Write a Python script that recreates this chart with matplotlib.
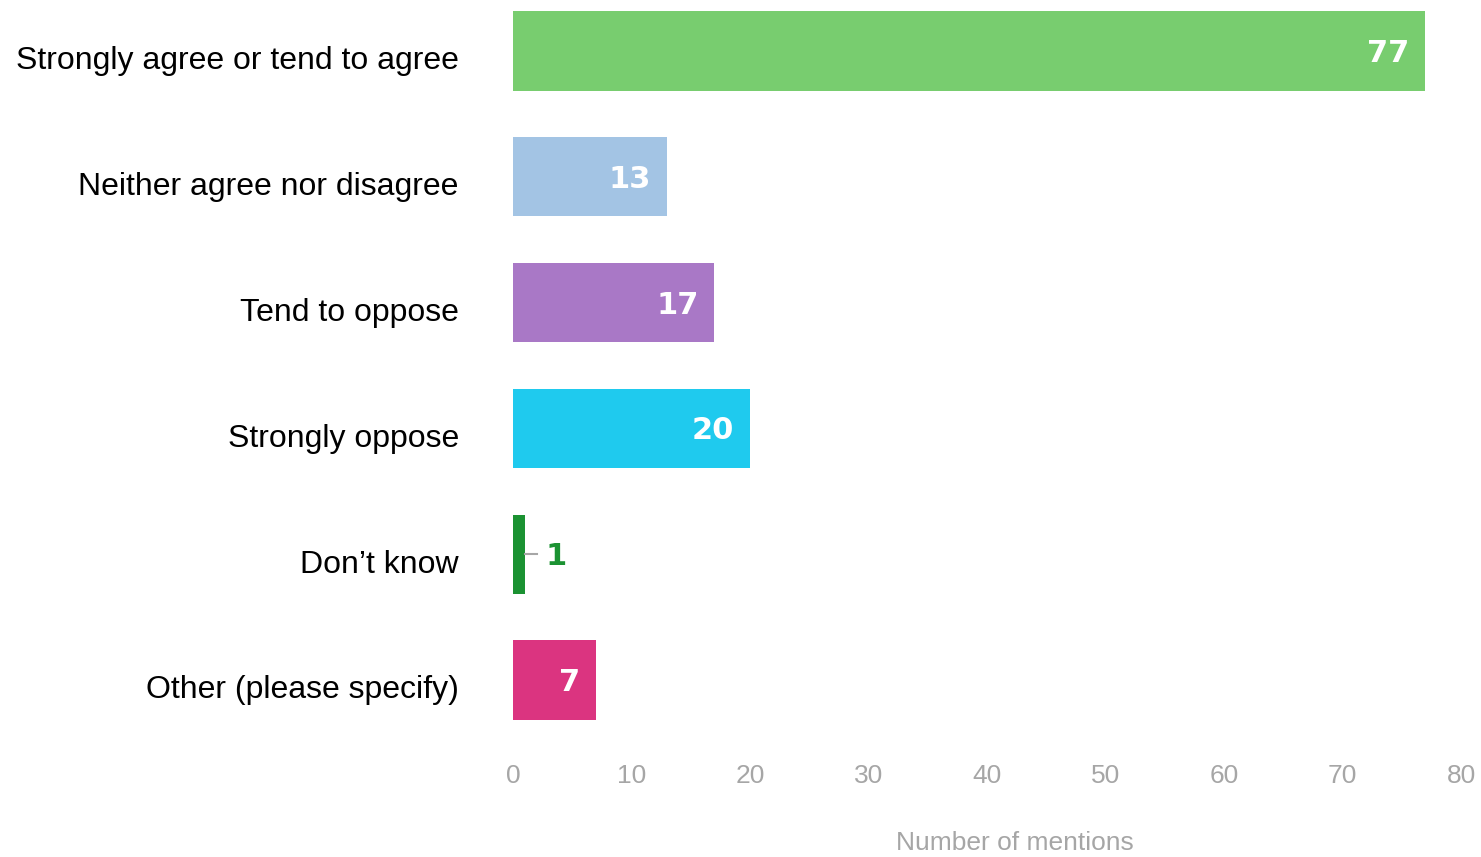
import matplotlib.pyplot as plt
import matplotlib.transforms as mtransforms

categories = ["Strongly agree or tend to agree", "Neither agree nor disagree",
              "Tend to oppose", "Strongly oppose", "Don\u2019t know",
              "Other (please specify)"]
mentions = [77, 13, 17, 20, 1, 7]
colors = ["#78CD6F", "#A3C4E4", "#A978C6", "#1FCAEE", "#1B9232", "#DB3480"]
xticks = [0, 10, 20, 30, 40, 50, 60, 70, 80]

fig = plt.figure(figsize=(14.81, 8.57), dpi=100)
ax = fig.add_axes([513 / 1481, 1 - 740 / 857, 948 / 1481, 740 / 857])

y = list(range(len(categories)))
ax.barh(y, mentions, height=0.63, color=colors)

ax.set_xlim(0, 80)
ax.set_ylim(5.477, -0.405)

for sp in ax.spines.values():
    sp.set_visible(False)

ax.set_xticks(xticks)
ax.set_xticklabels([str(t) for t in xticks], fontsize=19, color="#A6A6A6",
                   family="Liberation Sans")
ax.tick_params(axis="x", length=0, pad=17)

ax.set_yticks(y)
ax.set_yticklabels(categories, fontsize=23, family="Liberation Sans", color="black")
ax.tick_params(axis="y", length=0, pad=39)
for lbl in ax.get_yticklabels():
    lbl.set_transform(lbl.get_transform() +
                      mtransforms.ScaledTranslation(0, -7 / 100, fig.dpi_scale_trans))

fig.text(1015 / 1481, 1 - 843 / 857, "Number of mentions", fontsize=19,
         color="#A6A6A6", family="Liberation Sans", ha="center", va="center")

px = 80 / 948  # data units per pixel
for yi, v, c in zip(y, mentions, colors):
    if v >= 5:
        ax.text(v - 16 * px, yi + 0.02, str(v), ha="right", va="center",
                fontsize=22, fontweight="bold", color="white", family="DejaVu Sans")
    else:
        ax.plot([v, v + 12 * px], [yi, yi], color="#A6A6A6", lw=1.5)
        ax.text(v + 21 * px, yi + 0.02, str(v), ha="left", va="center",
                fontsize=22, fontweight="bold", color=c, family="DejaVu Sans")

fig.savefig("out.png", dpi=100)
